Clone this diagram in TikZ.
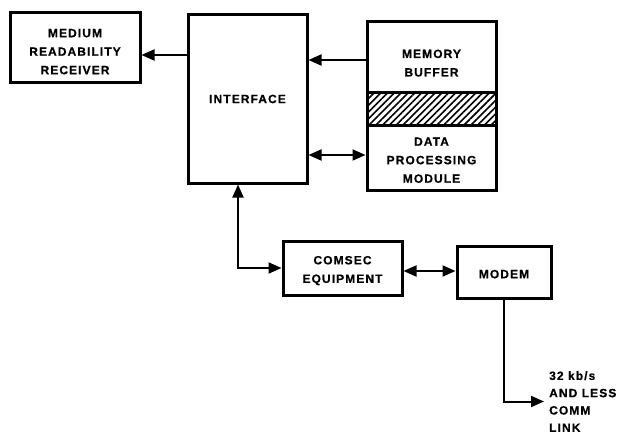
\documentclass[tikz,border=0pt]{standalone}
\usepackage{fontspec}
\setmainfont{Liberation Sans}[LetterSpace=9,FakeBold=0.6]
\usetikzlibrary{arrows.meta,patterns.meta}
\newcommand{\dn}[1]{\rule{0pt}{#1}}
\begin{document}
\begin{tikzpicture}[x=1pt,y=-1pt,
  box/.style={draw,line width=3pt,inner sep=0pt,align=center,font=\fontsize{12}{18.5}\selectfont\bfseries},
  conn/.style={line width=2pt},
  tip/.tip={Triangle[length=13pt,width=11pt]},
  arr/.style={conn,-tip},
  darr/.style={conn,tip-tip},
  lbl/.style={align=left,inner sep=0pt,font=\fontsize{12}{17.3}\selectfont\bfseries}]
\useasboundingbox (0,0) rectangle (620,433);
\node[box,minimum width=130pt,minimum height=70pt] (recv) at (75,47.5) {\dn{16.6pt}MEDIUM\\READABILITY\\RECEIVER};
\node[box,minimum width=119pt,minimum height=168pt] (iface) at (247.5,99) {INTERFACE};
\node[box,minimum width=129pt,minimum height=71pt] (mem) at (431.5,57.5) {\dn{19.6pt}MEMORY\\BUFFER};
\node[draw,line width=3pt,minimum width=129pt,minimum height=32pt,inner sep=0pt,
  pattern={Lines[angle=45,distance=4.8pt,line width=1.6pt]}] (hatch) at (431.5,109) {};
\node[box,minimum width=129pt,minimum height=65pt] (dpm) at (431.5,157.5) {\dn{13.6pt}DATA\\PROCESSING\\MODULE};
\node[box,minimum width=119pt,minimum height=54pt] (comsec) at (342.5,268) {\dn{13.6pt}COMSEC\\EQUIPMENT};
\node[box,minimum width=94pt,minimum height=52pt] (modem) at (504,272) {\dn{12.6pt}MODEM};
\node[lbl,anchor=north west] (link) at (549,371) {32 kb/s\\AND LESS\\COMM\\LINK};
\draw[arr] (iface.west |- {(0,55)}) -- (recv.east |- {(0,55)});
\draw[arr] (mem.west |- {(0,60)}) -- (iface.east |- {(0,60)});
\draw[darr] (iface.east |- {(0,155)}) -- (dpm.west |- {(0,155)});
\draw[darr] ([xshift=-9.5pt]iface.south) |- (comsec.west);
\draw[darr] (comsec.east |- {(0,271)}) -- (modem.west |- {(0,271)});
\draw[arr] (modem.south) |- ([xshift=-5pt]link.west);
\end{tikzpicture}
\end{document}
